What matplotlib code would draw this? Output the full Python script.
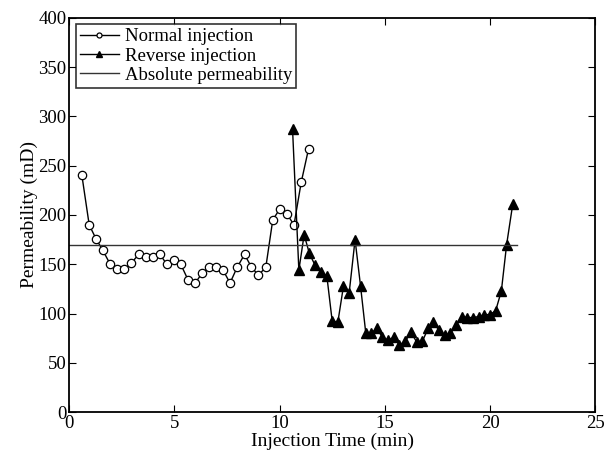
import numpy as np
import matplotlib
matplotlib.use('Agg')
import matplotlib.pyplot as plt

plt.rcParams['font.family'] = ['Liberation Serif', 'DejaVu Serif']
plt.rcParams['mathtext.fontset'] = 'stix'

# normal injection (circles)
t_normal = [0.60, 0.95, 1.27, 1.60, 1.95, 2.28, 2.61, 2.94, 3.30, 3.63, 3.96,
            4.31, 4.64, 4.97, 5.30, 5.65, 5.98, 6.32, 6.65, 6.98, 7.31, 7.64,
            7.98, 8.33, 8.66, 8.99, 9.34, 9.67, 10.00, 10.34, 10.68, 11.02, 11.37]
k_normal = [240.6, 190, 176, 164, 150, 145, 145, 151, 160, 157, 157,
            160, 150, 154, 150, 134, 131, 141, 147, 147, 144, 131,
            147, 160, 147, 139, 147, 195, 206, 201, 190, 233, 267]

# reverse injection (triangles)
t_reverse = [10.61, 10.91, 11.16, 11.41, 11.68, 11.95, 12.24, 12.49, 12.76, 13.03,
             13.30, 13.58, 13.84, 14.09, 14.36, 14.61, 14.88, 15.15, 15.42, 15.69,
             15.96, 16.24, 16.51, 16.78, 17.05, 17.30, 17.57, 17.84, 18.11, 18.38,
             18.65, 18.92, 19.18, 19.46, 19.72, 19.99, 20.26, 20.53, 20.78, 21.07]
k_reverse = [287, 144, 180, 161, 149, 142, 138, 93, 91, 128,
             121, 175, 128, 80, 80, 85, 76, 73, 76, 68,
             72, 81, 71, 72, 85, 91, 83, 78, 80, 88,
             97, 96, 96, 97, 99, 99, 103, 123, 170, 211]

# absolute permeability
k_abs = 170
t_abs = [0, 21.27]

fig = plt.figure(figsize=(6.07, 4.55), dpi=100)
ax = fig.add_axes([0.114, 0.094, 0.867, 0.867])

ax.plot(t_normal, k_normal, '-o', color='black', mfc='white', mec='black',
        ms=6, lw=1, mew=0.9, label='Normal injection')
ax.plot(t_reverse, k_reverse, '-^', color='black', ms=6.5, lw=1,
        label='Reverse injection')
ax.plot(t_abs, [k_abs, k_abs], '-', color='#333333', lw=1,
        label='Absolute permeability')

ax.set_xlim(0, 25)
ax.set_ylim(0, 400)
ax.set_xticks(np.arange(0, 26, 5))
ax.set_yticks(np.arange(0, 401, 50))
ax.tick_params(direction='in', top=True, right=True, length=5, width=0.8,
               labelsize=13.5)
ax.tick_params(axis='x', pad=2)
ax.tick_params(axis='y', pad=2)
for s in ax.spines.values():
    s.set_linewidth(1.3)

ax.set_xlabel('Injection Time (min)', fontsize=14, labelpad=0.5)
ax.set_ylabel('Permeability (mD)', fontsize=14, labelpad=0)

leg = ax.legend(loc='upper left', fontsize=13.5, frameon=True, fancybox=False,
                edgecolor='black', markerscale=0.6, handlelength=2.1,
                handletextpad=0.3, borderaxespad=0.35, borderpad=0.2,
                labelspacing=0.12)
leg.get_frame().set_linewidth(1.2)

fig.savefig('out.png', dpi=100)
